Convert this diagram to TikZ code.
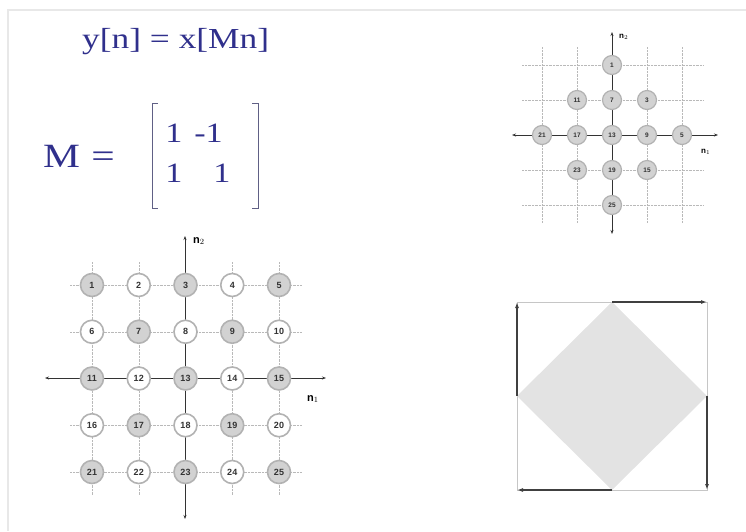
\documentclass[tikz,border=0pt]{standalone}
\usepackage{fontspec}
\setmainfont{Liberation Serif}
\newfontfamily\slidefont[FakeStretch=1.22]{Liberation Serif}
\newfontfamily\labelfont{Liberation Sans}
\usetikzlibrary{arrows.meta}
\definecolor{slideblue}{RGB}{48,48,140}
\tikzset{
    formula/.style={inner sep=0pt, text=slideblue, font=\slidefont\fontsize{29}{29}\selectfont},
    bigformula/.style={formula, font=\slidefont\fontsize{34}{34}\selectfont},
    entry/.style={formula, font=\slidefont\fontsize{28}{28}\selectfont},
    lat/.style={circle, draw=gray!60, line width=1.6pt, inner sep=0pt, minimum size=23pt,
        text=black!80, font=\labelfont\bfseries\fontsize{9}{9}\selectfont},
    latodd/.style={lat, fill=gray!35},
    lateven/.style={lat, fill=white},
    smalllat/.style={lat, fill=gray!35, line width=1.2pt, minimum size=19pt,
        font=\labelfont\bfseries\fontsize{6.5}{6.5}\selectfont},
    gridline/.style={gray!55, densely dotted, thin},
    axis/.style={gray!40!black, line width=.7pt, {Stealth[length=4pt]}-{Stealth[length=4pt]}},
    axlabel/.style={inner sep=1pt, font=\labelfont\bfseries\fontsize{11}{11}\selectfont},
    flow/.style={black!75, line width=1.4pt, -{Latex[length=6pt,width=4pt]}},
}
\begin{document}
\begin{tikzpicture}[x=1pt,y=-1pt]
    \useasboundingbox (0,0) rectangle (746,531);
    %Rahmen
    \draw[gray!18, line width=2pt] (8,531) -- (8,10) -- (746,10);

    %Formeln
    \node[formula, anchor=base west] (eq) at (82,48) {y[n] = x[Mn]};
    \node[bigformula, anchor=base west] (mdef) at (43,167) {M\,\,=};
    \node[entry, anchor=base] (m11) at (174,142) {1};
    \node[entry, anchor=base east] (m12) at (223,142) {-1};
    \node[entry, anchor=base] (m21) at (174,182) {1};
    \node[entry, anchor=base] (m22) at (222,182) {1};
    \draw[gray!60!slideblue, thin] (158,103) -- (152,103) -- (152,208) -- (158,208);
    \draw[gray!60!slideblue, thin] (252,103) -- (258,103) -- (258,208) -- (252,208);

    %Gitter links
    \foreach \k in {0,...,4} {
        \draw[gridline] (70,285+46.75*\k) -- (302,285+46.75*\k);
        \draw[gridline] (92+46.75*\k,262) -- (92+46.75*\k,495);
    }
    %Achsen links
    \coordinate (lw) at (45,378);
    \coordinate (le) at (326,378);
    \coordinate (ln) at (185,236);
    \coordinate (ls) at (185,519);
    \draw[axis] (lw) -- (le);
    \draw[axis] (ls) -- (ln);
    \node[axlabel, anchor=west] (ln2) at (192,241) {n$_2$};
    \node[axlabel, anchor=west] (ln1) at (306,399) {n$_1$};
    %Punkte links
    \foreach \i in {1,...,25} {
        \pgfmathtruncatemacro{\col}{mod(\i-1,5)}
        \pgfmathtruncatemacro{\row}{div(\i-1,5)}
        \pgfmathtruncatemacro{\odd}{mod(\i,2)}
        \ifnum\odd=1 \def\kind{latodd}\else \def\kind{lateven}\fi
        \node[\kind] (c\i) at (92+46.75*\col,285+46.75*\row) {\i};
    }

    %Gitter rechts
    \foreach \k in {0,...,4} {
        \draw[gridline] (522,65+35*\k) -- (703,65+35*\k);
        \draw[gridline] (542+35*\k,47) -- (542+35*\k,223);
    }
    %Achsen rechts
    \coordinate (rw) at (512,135);
    \coordinate (re) at (718,135);
    \coordinate (rn) at (612,32);
    \coordinate (rs) at (612,234);
    \draw[axis] (rw) -- (re);
    \draw[axis] (rs) -- (rn);
    \node[axlabel, anchor=west, font=\labelfont\bfseries\fontsize{8}{8}\selectfont] (rn2) at (618,37) {n$_2$};
    \node[axlabel, anchor=west, font=\labelfont\bfseries\fontsize{8}{8}\selectfont] (rn1) at (700,152) {n$_1$};
    %Punkte rechts
    \foreach \a/\b/\lab in {0/2/1, -1/1/11, 0/1/7, 1/1/3, -2/0/21, -1/0/17, 0/0/13,
            1/0/9, 2/0/5, -1/-1/23, 0/-1/19, 1/-1/15, 0/-2/25} {
        \node[smalllat] (r\lab) at (612+35*\a,135-35*\b) {\lab};
    }

    %Raute
    \coordinate (q1) at (517,302);
    \coordinate (q2) at (707,302);
    \coordinate (q3) at (707,490);
    \coordinate (q4) at (517,490);
    \coordinate (dn) at (612,302);
    \coordinate (de) at (707,396);
    \coordinate (ds) at (612,490);
    \coordinate (dw) at (517,396);
    \draw[gray!45, thin] (q1) rectangle (q3);
    \fill[gray!22] (dn) -- (de) -- (ds) -- (dw) -- cycle;
    \draw[flow] (dw) -- (q1);
    \draw[flow] (dn) -- (q2);
    \draw[flow] (de) -- (q3);
    \draw[flow] (ds) -- (q4);
\end{tikzpicture}
\end{document}
